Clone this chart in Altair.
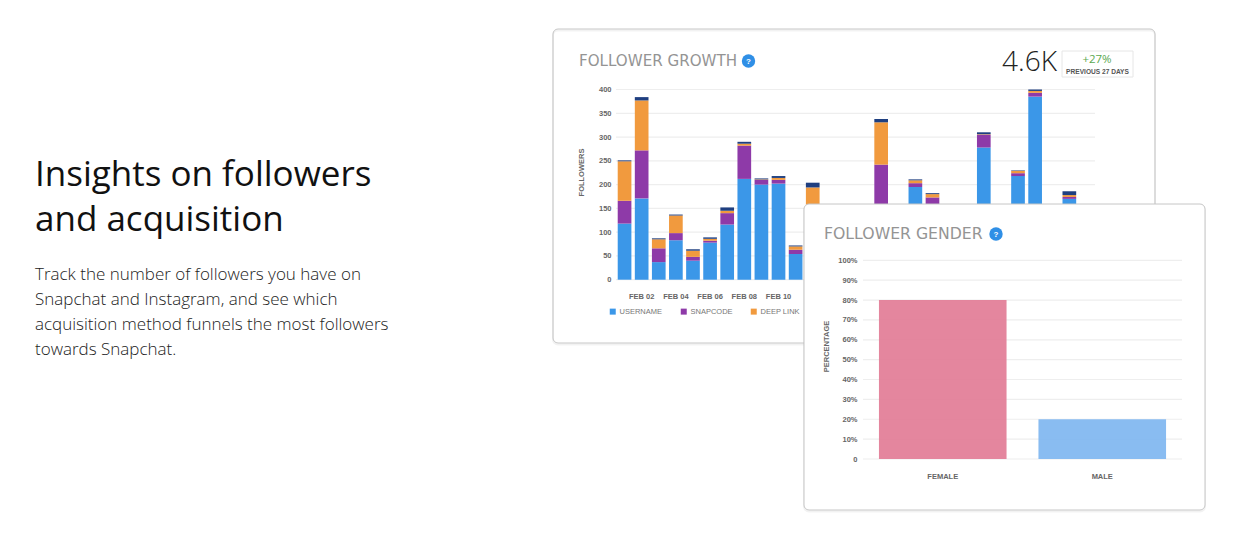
import altair as alt
import pandas as pd

# ---- data ----
heading_lines = ["Insights on followers", "and acquisition"]
body_lines = [
    "Track the number of followers you have on",
    "Snapchat and Instagram, and see which",
    "acquisition method funnels the most followers",
    "towards Snapchat.",
]
all_days = [f"FEB {d:02d}" for d in range(1, 29)]
shown_days = ["FEB 01", "FEB 02", "FEB 03", "FEB 04", "FEB 05", "FEB 06", "FEB 07", "FEB 08", "FEB 09", "FEB 10",
              "FEB 11", "FEB 12", "FEB 16", "FEB 18", "FEB 19", "FEB 22", "FEB 24", "FEB 25", "FEB 27"]
username = [118, 171, 37, 83, 40, 78, 116, 212, 200, 202, 54, 100, 140, 195, 150, 278, 218, 385, 170]
snapcode = [48, 101, 29, 15, 8, 4, 24, 70, 10, 8, 9, 40, 102, 8, 23, 27, 6, 8, 4]
deep_link = [83, 105, 19, 37, 13, 4, 5, 4, 1, 4, 7, 54, 89, 6, 7, 1, 5, 4, 4]
other = [2, 7, 2, 2, 3, 3, 7, 4, 2, 4, 2, 10, 7, 2, 2, 4, 1, 3, 8]
series_names = ["USERNAME", "SNAPCODE", "DEEP LINK", "OTHER"]
series_colors = ["#3b97e8", "#8e3aa8", "#f19a3e", "#1f3f80"]
growth_ticks = [0, 50, 100, 150, 200, 250, 300, 350, 400]
growth_label_days = ["FEB 02", "FEB 04", "FEB 06", "FEB 08", "FEB 10"]

genders = ["FEMALE", "MALE"]
gender_values = [80, 20]
gender_colors = ["#e27d97", "#80b7f0"]
gender_ticks = [0, 10, 20, 30, 40, 50, 60, 70, 80, 90, 100]

LABEL_FONT = "Liberation Sans"
TITLE_FONT = "DejaVu Sans"
BODY_FONT = "Open Sans"
AXIS_GREY = "#666666"
M = 8  # page margin


def px(v):
    return v - M


one = alt.Data(values=[{"k": 0}])


def text(s, x, y, **kw):
    return alt.Chart(one).mark_text(text=s, **kw).encode(x=alt.value(px(x)), y=alt.value(px(y)))


def box(x, x2, y, y2, **kw):
    return alt.Chart(one).mark_rect(**kw).encode(
        x=alt.value(px(x)), x2=alt.value(px(x2)), y=alt.value(px(y)), y2=alt.value(px(y2)))


def dot(x, y, size, color):
    return alt.Chart(one).mark_point(filled=True, opacity=1, size=size, color=color, shape="circle").encode(
        x=alt.value(px(x)), y=alt.value(px(y)))


rows = []
for rank, (name, vals) in enumerate(zip(series_names, [username, snapcode, deep_link, other])):
    for day, v in zip(shown_days, vals):
        rows.append({"day": day, "series": name, "value": v, "rank": rank})
growth_df = pd.DataFrame(rows)
gender_df = pd.DataFrame({"gender": genders, "pct": gender_values})

g_y_scale = alt.Scale(domain=[0, 400], range=[px(279.7), px(89.5)])
g_x_scale = alt.Scale(domain=all_days, range=[px(616), px(1095)], paddingInner=0.2, paddingOuter=0.1)
s_y_scale = alt.Scale(domain=[0, 100], range=[px(459), px(260.3)])
s_x_scale = alt.Scale(domain=genders, range=[px(863), px(1182)], paddingInner=0.2, paddingOuter=0.1)

W, H = 1240, 530

# ---- left text ----
left = [text(s, 35, 186 + i * 45, font=BODY_FONT, fontSize=35, fontWeight=400, color="#111111", align="left",
             baseline="alphabetic") for i, s in enumerate(heading_lines)]
left += [text(s, 35, 279.5 + i * 25, font=BODY_FONT, fontSize=17, fontWeight=300, color="#222222", align="left",
              baseline="alphabetic") for i, s in enumerate(body_lines)]

# ---- growth card ----
card1 = [
    box(553, 1155, 30.5, 344.5, cornerRadius=5, fillOpacity=0, stroke="#000000", strokeOpacity=0.05, strokeWidth=2),
    box(553, 1155, 29, 343, cornerRadius=5, fillOpacity=0, stroke="#c6c6c6", strokeWidth=1),
]
g_grid = alt.Chart(pd.DataFrame({"t": growth_ticks})).mark_rule(color="#eeeeee", strokeWidth=1.2).encode(
    y=alt.Y("t:Q", scale=g_y_scale, axis=None),
    x=alt.value(px(616)), x2=alt.value(px(1095)))
g_bars = alt.Chart(growth_df).mark_bar().encode(
    x=alt.X("day:N", scale=g_x_scale, axis=alt.Axis(
        orient="bottom", values=growth_label_days, title=None, labelAngle=0, domain=False, ticks=False, grid=False,
        offset=-(H - px(279.7)), labelPadding=13, labelFont=LABEL_FONT, labelFontSize=7.5, labelFontWeight="bold",
        labelColor=AXIS_GREY, zindex=0)),
    y=alt.Y("value:Q", stack="zero", scale=g_y_scale, axis=alt.Axis(
        orient="left", values=growth_ticks, title="FOLLOWERS", domain=False, ticks=False, grid=False,
        offset=-px(612), labelPadding=1, labelFont=LABEL_FONT, labelFontSize=7.5, labelFontWeight="bold",
        labelColor=AXIS_GREY, titleFont=LABEL_FONT, titleFontSize=7.5, titleFontWeight="bold", titleColor=AXIS_GREY,
        titleX=-27, titleY=px(172), zindex=0)),
    color=alt.Color("series:N", scale=alt.Scale(domain=series_names, range=series_colors), legend=alt.Legend(
        orient="none", legendX=px(609), legendY=px(307.5), direction="horizontal", columns=3,
        values=series_names[:3], title=None, symbolType="square", symbolSize=36, symbolStrokeWidth=0,
        labelFont=LABEL_FONT, labelFontSize=7.5, labelColor="#777777", columnPadding=17, labelOffset=3)),
    order=alt.Order("rank:Q", sort="ascending"),
)
g_head = [
    text("FOLLOWER GROWTH", 579, 65.5, font=TITLE_FONT, fontSize=15.1, color="#949494", align="left",
         baseline="alphabetic"),
    dot(748.5, 61, 180, "#2f8fe6"),
    text("?", 748.5, 64, font=LABEL_FONT, fontSize=8, fontWeight="bold", color="#ffffff", align="center",
         baseline="alphabetic"),
    text("4.6K", 1002, 71, font=BODY_FONT, fontSize=28, fontWeight=300, color="#222222", align="left",
         baseline="alphabetic"),
    box(1062, 1133, 51, 77, fill="#ffffff", stroke="#e6e6e6", strokeWidth=1),
    text("+27%", 1097, 63, font=BODY_FONT, fontSize=11.5, color="#5aa84f", align="center", baseline="alphabetic"),
    text("PREVIOUS 27 DAYS", 1097.5, 73.5, font=LABEL_FONT, fontSize=6.6, fontWeight="bold", color="#555555",
         align="center", baseline="alphabetic"),
]

# ---- gender card ----
card2 = [
    box(804, 1205, 205.5, 511.5, cornerRadius=5, fillOpacity=0, stroke="#000000", strokeOpacity=0.05, strokeWidth=2),
    box(804, 1205, 204, 510, cornerRadius=5, fill="#ffffff", stroke="#c6c6c6", strokeWidth=1),
]
s_grid = alt.Chart(pd.DataFrame({"t": gender_ticks})).mark_rule(color="#eeeeee", strokeWidth=1.2).encode(
    y=alt.Y("t:Q", scale=s_y_scale, axis=None),
    x=alt.value(px(863)), x2=alt.value(px(1182)))
s_bars = alt.Chart(gender_df).mark_bar(opacity=0.93).encode(
    x=alt.X("gender:N", scale=s_x_scale, axis=alt.Axis(
        orient="bottom", title=None, labelAngle=0, domain=False, ticks=False, grid=False,
        offset=-(H - px(459)), labelPadding=13, labelFont=LABEL_FONT, labelFontSize=7.5, labelFontWeight="bold",
        labelColor=AXIS_GREY, zindex=1)),
    y=alt.Y("pct:Q", scale=s_y_scale, axis=alt.Axis(
        orient="left", values=gender_ticks, title="PERCENTAGE", domain=False, ticks=False, grid=False,
        offset=-px(858), labelPadding=1, labelFont=LABEL_FONT, labelFontSize=7.5, labelFontWeight="bold",
        labelColor=AXIS_GREY, labelExpr="datum.value === 0 ? '0' : datum.value + '%'",
        titleFont=LABEL_FONT, titleFontSize=7.5, titleFontWeight="bold", titleColor=AXIS_GREY,
        titleX=-28, titleY=px(346), zindex=1)),
    fill=alt.Fill("gender:N", scale=alt.Scale(domain=genders, range=gender_colors), legend=None),
)
s_head = [
    text("FOLLOWER GENDER", 824, 238.5, font=TITLE_FONT, fontSize=15.7, color="#949494", align="left",
         baseline="alphabetic"),
    dot(996, 234, 180, "#2f8fe6"),
    text("?", 996, 237, font=LABEL_FONT, fontSize=8, fontWeight="bold", color="#ffffff", align="center",
         baseline="alphabetic"),
]

chart = alt.layer(
    *left, *card1, g_grid, g_bars, *g_head, *card2, s_grid, s_bars, *s_head
).resolve_scale(
    x="independent", y="independent", color="independent", fill="independent"
).resolve_axis(x="independent", y="independent").properties(
    width=W, height=H, padding=0, background="#ffffff",
    autosize=alt.AutoSizeParams(type="none"),
).configure_view(stroke=None)

chart.save("out.html", embed_options={"renderer": "svg", "actions": False})
